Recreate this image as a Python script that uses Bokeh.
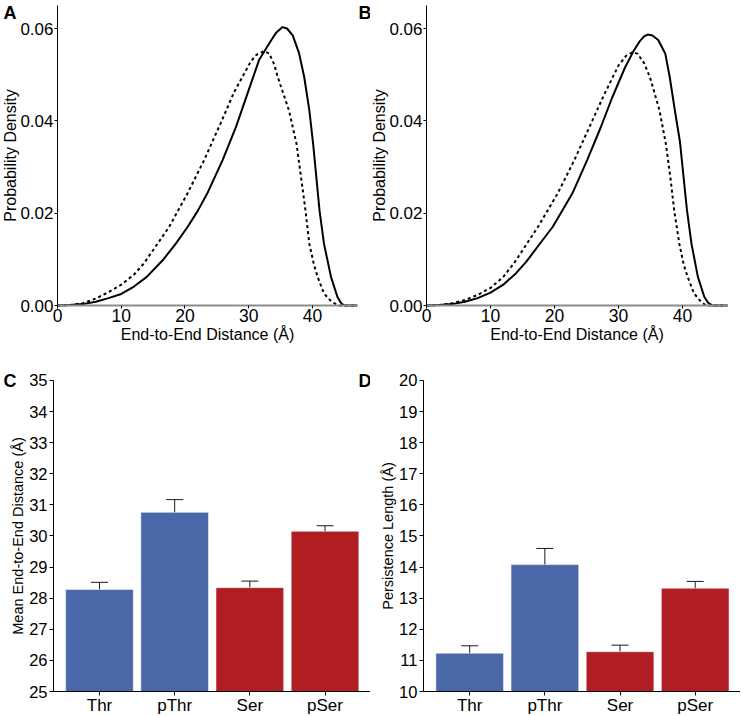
from bokeh.plotting import figure
from bokeh.models import (Range1d, FixedTicker, Label, ColumnDataSource, Whisker,
                          TeeHead, NumeralTickFormatter)
from bokeh.layouts import column, row
from bokeh.embed import file_html
from bokeh.resources import INLINE

FONT = "Liberation Sans"

# ---- Panel A: end-to-end distance distributions (Thr dashed, pThr solid)
a_thr_x = [0, 2, 4, 6, 8, 10, 12, 13.6, 15.5, 17.5, 20.4, 23.0, 25.6, 27.7, 30.3, 31.2, 32.4,
           33.2, 34.0, 34.5, 35.4, 36.3, 37.5, 38.2, 38.9, 39.5, 40.2, 40.8, 41.8, 43.0, 43.7,
           44.2, 47]
a_thr_y = [0, 0.0001, 0.0005, 0.0015, 0.0029, 0.0045, 0.0067, 0.0092, 0.0130, 0.0170, 0.0243,
           0.0315, 0.0395, 0.0462, 0.0528, 0.0543, 0.0551, 0.0546, 0.0522, 0.0497, 0.0460,
           0.0423, 0.0350, 0.0278, 0.0206, 0.0134, 0.0090, 0.0062, 0.0026, 0.0008, 0.0003,
           0.0, 0.0]
a_pthr_x = [0, 2, 4, 6, 8, 10, 12, 14, 16.5, 18.5, 20.4, 22, 23.5, 25.9, 28.0, 29.8, 31.6,
            32.5, 33.5, 34.25, 35.3, 36.0, 36.9, 37.9, 38.7, 39.5, 40.1, 40.6, 41.1, 41.8, 42.9,
            43.9, 44.5, 45, 47]
a_pthr_y = [0, 0.0001, 0.0003, 0.0008, 0.0016, 0.0025, 0.0041, 0.0062, 0.0098, 0.0133,
            0.0170, 0.0205, 0.0243, 0.0315, 0.0387, 0.0459, 0.0531, 0.0552, 0.0574, 0.0590,
            0.0603, 0.0600, 0.0585, 0.0546, 0.0495, 0.0423, 0.0350, 0.0278, 0.0206, 0.0134,
            0.0062, 0.0019, 0.0005, 0.0, 0.0]

# ---- Panel B: end-to-end distance distributions (Ser dashed, pSer solid)
b_ser_x = [0, 2, 4, 6, 8, 10, 12, 13.7, 15.5, 17.4, 20.5, 23.1, 25.4, 27.7, 30.0, 31.2, 32.2,
           33.0, 34.0, 34.9, 36.4, 37.4, 38.1, 38.7, 39.5, 40.2, 40.8, 41.8, 42.9, 43.7, 47]
b_ser_y = [0, 0.0001, 0.0005, 0.0012, 0.0023, 0.0038, 0.0062, 0.0092, 0.0130, 0.0170, 0.0243,
           0.0315, 0.0385, 0.0455, 0.0520, 0.0541, 0.0549, 0.0545, 0.0525, 0.0495, 0.0423,
           0.0350, 0.0278, 0.0206, 0.0134, 0.0088, 0.0062, 0.0026, 0.0008, 0.0, 0.0]
b_pser_x = [0, 2, 4, 6, 8, 10, 12, 14, 15.6, 17.5, 19.7, 21.2, 22.8, 25.1, 27.2, 29.0, 31.0,
            32.3, 33.3, 34.0, 34.6, 35.3, 36.2, 37.3, 38.0, 38.8, 39.6, 40.15, 40.7, 41.4, 42.4,
            43.4, 44.0, 44.7, 47]
b_pser_y = [0, 0.0001, 0.0003, 0.0008, 0.0016, 0.0028, 0.0045, 0.0070, 0.0095, 0.0130,
            0.0170, 0.0205, 0.0243, 0.0315, 0.0385, 0.0450, 0.0515, 0.0550, 0.0572, 0.0583,
            0.0587, 0.0585, 0.0575, 0.0546, 0.0495, 0.0423, 0.0355, 0.0280, 0.0206, 0.0134,
            0.0062, 0.0019, 0.0006, 0.0, 0.0]

density_ticks = [0, 0.02, 0.04, 0.06]
distance_ticks = [0, 10, 20, 30, 40]

# ---- Panels C and D: bar charts
categories = ["Thr", "pThr", "Ser", "pSer"]
bar_colors = ["#4A67A8", "#4A67A8", "#B01E24", "#B01E24"]
mean_dist = [28.28, 30.76, 28.34, 30.15]
mean_dist_err = [0.23, 0.41, 0.21, 0.18]
persistence = [11.23, 14.08, 11.28, 13.32]
persistence_err = [0.24, 0.52, 0.21, 0.22]
mean_dist_ticks = list(range(25, 36))
persistence_ticks = list(range(10, 21))


def style_common(p):
    p.xgrid.visible = False
    p.ygrid.visible = False
    p.outline_line_color = None
    p.background_fill_color = "white"
    p.border_fill_color = "white"
    for ax in (p.xaxis[0], p.yaxis[0]):
        ax.major_label_text_font = FONT
        ax.axis_label_text_font = FONT
        ax.axis_label_text_font_style = "normal"
        ax.major_label_text_color = "black"
        ax.axis_label_text_color = "black"
        ax.minor_tick_line_color = None
        ax.major_tick_in = 0
        ax.major_tick_out = 4
        ax.major_tick_line_color = "black"
        ax.axis_line_color = "black"
        ax.major_label_standoff = 1
        ax.axis_label_standoff = 0


def panel_label(p, text, x, y):
    # x, y in screen pixels measured from the frame's bottom-left corner
    p.add_layout(Label(x=x, y=y, x_units="screen", y_units="screen", text=text,
                       text_font=FONT, text_font_style="bold", text_font_size="18px",
                       text_baseline="top", text_align="left", text_color="black"))


def density_panel(x_dash, y_dash, x_solid, y_solid, width, x_start, x_end):
    p = figure(width=width, height=350, x_range=Range1d(x_start, x_end),
               y_range=Range1d(-0.009747, 0.066065), output_backend="svg",
               toolbar_location=None,
               min_border_left=0, min_border_right=0, min_border_top=0, min_border_bottom=0)
    style_common(p)
    p.xaxis.ticker = FixedTicker(ticks=distance_ticks)
    p.yaxis.ticker = FixedTicker(ticks=density_ticks)
    p.yaxis.formatter = NumeralTickFormatter(format="0.00")
    p.xaxis.bounds = (0, 47)
    p.yaxis.bounds = (0, 0.065)
    p.yaxis.fixed_location = 0
    p.xaxis.fixed_location = 0
    p.xaxis.axis_line_color = "#8c8c8c"
    p.xaxis.axis_line_width = 2
    p.xaxis.major_tick_out = 3
    p.yaxis.major_tick_out = 3
    p.xaxis.major_label_standoff = 0
    p.xaxis.axis_label_standoff = 1
    p.yaxis.axis_label_standoff = -2
    p.xaxis.major_label_text_font_size = "17.5px"
    p.yaxis.major_label_text_font_size = "17px"
    p.xaxis.axis_label_text_font_size = "16px"
    p.yaxis.axis_label_text_font_size = "16px"
    p.xaxis.axis_label = "End-to-End Distance (Å)"
    p.yaxis.axis_label = "Probability Density"
    p.line(x_solid, y_solid, line_color="black", line_width=2)
    p.line(x_dash, y_dash, line_color="black", line_width=2, line_dash="3 3")
    return p


def bar_panel(values, errs, y0, y1, yticks, ylabel, width, x_start, x_axis0, x_end):
    p = figure(width=width, height=365, x_range=Range1d(x_start, x_end),
               y_range=Range1d(y0 - 0.7717, y1 + 0.9646), output_backend="svg",
               toolbar_location=None,
               min_border_left=0, min_border_right=0, min_border_top=0, min_border_bottom=0)
    style_common(p)
    xs = list(range(1, len(categories) + 1))
    src = ColumnDataSource(dict(
        x=xs, top=values, color=bar_colors,
        upper=[v + e for v, e in zip(values, errs)],
        lower=[v - e for v, e in zip(values, errs)],
    ))
    p.vbar(x="x", top="top", bottom=y0, width=0.9, fill_color="color",
           line_color="white", line_alpha=0.5, line_width=1, source=src)
    w = Whisker(source=src, base="x", upper="upper", lower="lower",
                line_color="#1a1a1a", line_width=1,
                upper_head=TeeHead(size=17, line_color="#1a1a1a", line_width=1),
                lower_head=TeeHead(size=17, line_color="#1a1a1a", line_width=1))
    p.add_layout(w)
    p.xaxis.ticker = FixedTicker(ticks=xs)
    p.xaxis.major_label_overrides = {x: c for x, c in zip(xs, categories)}
    p.xaxis.bounds = (x_axis0, x_end)
    p.xaxis.fixed_location = y0
    p.yaxis.ticker = FixedTicker(ticks=yticks)
    p.yaxis.bounds = (y0, y1)
    p.yaxis.fixed_location = x_axis0
    p.xaxis.major_label_text_font_size = "17px"
    p.yaxis.major_label_text_font_size = "16.5px"
    p.yaxis.axis_label_text_font_size = "14.5px"
    p.yaxis.axis_label = ylabel
    p.xaxis.major_label_standoff = 0
    p.yaxis.major_label_standoff = 2
    return p


pa = density_panel(a_thr_x, a_thr_y, a_pthr_x, a_pthr_y, 370, -8.941, 49.098)
pb = density_panel(b_ser_x, b_ser_y, b_pser_x, b_pser_y, 370, -8.75, 49.06)
pc = bar_panel(mean_dist, mean_dist_err, 25, 35, mean_dist_ticks,
               "Mean End-to-End Distance (Å)", 370, -0.317, 0.388, 4.605)
pd_ = bar_panel(persistence, persistence_err, 10, 20, persistence_ticks,
                "Persistence Length (Å)", 370, -0.3197, 0.385, 4.6025)

panel_label(pa, "A", 3, 348)
panel_label(pa, "B", 358, 348)
panel_label(pc, "C", 3, 345)
panel_label(pc, "D", 358, 345)

layout = column(row(pa, pb), row(pc, pd_))

open("out.html", "w").write(file_html(layout, INLINE))
